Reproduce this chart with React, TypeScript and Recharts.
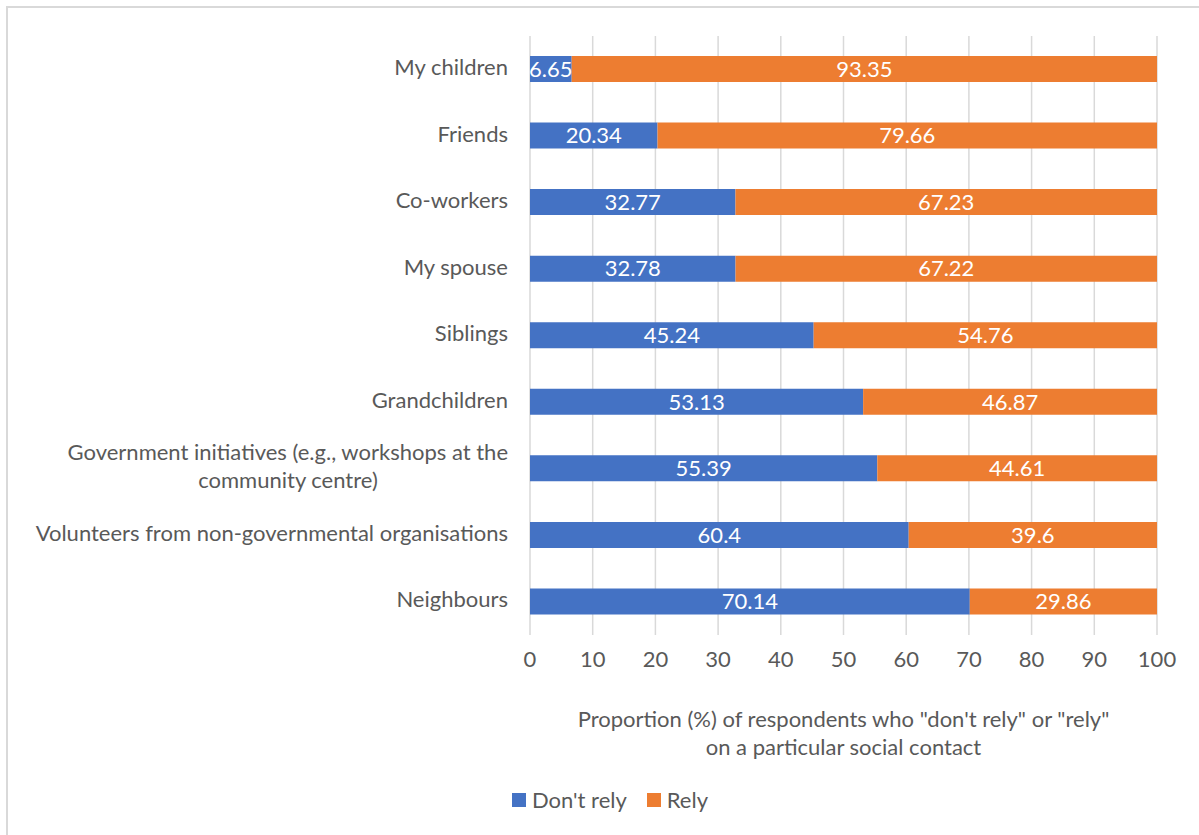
import { BarChart, Bar, XAxis, YAxis, CartesianGrid, Legend, LabelList } from 'recharts';

const categories = [
  'My children',
  'Friends',
  'Co-workers',
  'My spouse',
  'Siblings',
  'Grandchildren',
  'Government initiatives (e.g., workshops at the community centre)',
  'Volunteers from non-governmental organisations',
  'Neighbours',
];
const dontRely = [6.65, 20.34, 32.77, 32.78, 45.24, 53.13, 55.39, 60.4, 70.14];
const rely = [93.35, 79.66, 67.23, 67.22, 54.76, 46.87, 44.61, 39.6, 29.86];
const xTicks = [0, 10, 20, 30, 40, 50, 60, 70, 80, 90, 100];
const titleLines = ['Proportion (%) of respondents who "don\'t rely" or "rely"', 'on a particular social contact'];

// labels that Excel wrapped onto two lines
const wrapped: Record<string, string[]> = {
  'Government initiatives (e.g., workshops at the community centre)': [
    'Government initiatives (e.g., workshops at the',
    'community centre)',
  ],
};

const data = categories.map((name, i) => ({ name, dontRely: dontRely[i], rely: rely[i] }));

const BLUE = '#4472C4';
const ORANGE = '#ED7D31';
const TEXT = '#595959';
const GRID = '#d9d9d9';
const FONT = 'Lato, sans-serif';
const FS = 22;

function CategoryTick(props: any) {
  const { x, y, payload } = props;
  const lines = wrapped[payload.value];
  const right = x - 14;
  if (lines) {
    // first line right aligned, second centred under it
    const w = 440;
    return (
      <g>
        <text x={right} y={y - 16} dy="0.35em" textAnchor="end" fill={TEXT} fontSize={FS} fontFamily={FONT}>{lines[0]}</text>
        <text x={right - w / 2} y={y + 12} dy="0.35em" textAnchor="middle" fill={TEXT} fontSize={FS} fontFamily={FONT}>{lines[1]}</text>
      </g>
    );
  }
  return (
    <text x={right} y={y - 2} dy="0.35em" textAnchor="end" fill={TEXT} fontSize={FS} fontFamily={FONT}>{payload.value}</text>
  );
}

function AxisTitle(props: any) {
  const { viewBox } = props;
  const cx = viewBox.x + viewBox.width / 2;
  return (
    <text x={cx} y={viewBox.y + 92} textAnchor="middle" fill={TEXT} fontSize={FS} fontFamily={FONT}>
      <tspan x={cx} dy="0">{titleLines[0]}</tspan>
      <tspan x={cx} dy="28">{titleLines[1]}</tspan>
    </text>
  );
}

function LegendContent(props: any) {
  const { payload } = props;
  return (
    <div style={{ display: 'flex', justifyContent: 'center', alignItems: 'center', gap: 20, fontFamily: FONT, fontSize: FS, color: TEXT }}>
      {payload.map((p: any) => (
        <div key={p.value} style={{ display: 'flex', alignItems: 'center', gap: 6 }}>
          <span style={{ display: 'inline-block', width: 14, height: 14, background: p.color }} />
          <span>{p.value}</span>
        </div>
      ))}
    </div>
  );
}

export default function App() {
  return (
    <div style={{ position: 'absolute', left: 0, top: 0, width: 1199, height: 835, background: '#fff' }}>
      <div style={{ position: 'absolute', left: 6, top: 6, width: 1199, height: 835, borderLeft: `2px solid ${GRID}`, borderTop: `2px solid ${GRID}` }} />
      <BarChart
        width={1199}
        height={835}
        data={data}
        layout="vertical"
        margin={{ top: 36, right: 42, left: 10, bottom: 20 }}
        barSize={26}
        style={{ fontFamily: FONT }}
      >
        <CartesianGrid horizontal={false} stroke={GRID} strokeWidth={1.5} />
        <XAxis
          type="number"
          domain={[0, 100]}
          ticks={xTicks}
          axisLine={false}
          tickLine={false}
          tickMargin={10}
          height={153}
          tick={{ fill: TEXT, fontSize: FS, fontFamily: FONT }}
          label={<AxisTitle />}
        />
        <YAxis
          type="category"
          dataKey="name"
          width={520}
          axisLine={false}
          tickLine={false}
          tick={<CategoryTick />}
          interval={0}
        />
        <Legend
          verticalAlign="bottom"
          content={<LegendContent />}
          wrapperStyle={{ left: 0, width: 1220, bottom: 22 }}
        />
        <Bar dataKey="dontRely" name="Don't rely" stackId="a" fill={BLUE} isAnimationActive={false}>
          <LabelList dataKey="dontRely" position="center" fill="#fff" fontSize={FS} fontFamily={FONT} />
        </Bar>
        <Bar dataKey="rely" name="Rely" stackId="a" fill={ORANGE} isAnimationActive={false}>
          <LabelList dataKey="rely" position="center" fill="#fff" fontSize={FS} fontFamily={FONT} />
        </Bar>
      </BarChart>
    </div>
  );
}
